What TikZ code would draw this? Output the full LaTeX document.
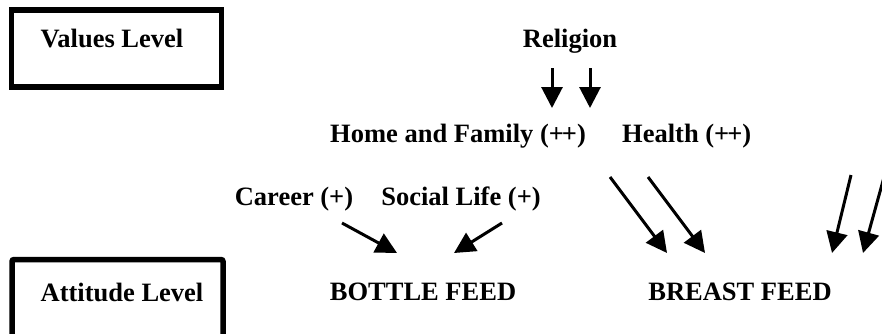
\documentclass[tikz,border=0pt]{standalone}
\usepackage{fontspec}
\setmainfont{Liberation Serif}
\usetikzlibrary{arrows.meta}
\begin{document}
\begin{tikzpicture}[x=1pt,y=-1pt,
  lbl/.style={font=\fontsize{26.5}{30}\selectfont\bfseries, anchor=base, inner sep=0pt},
  arr/.style={line width=3pt, -{Triangle[length=21pt,width=21pt]}},
  levelbox/.style={line width=5.5pt}]
\useasboundingbox (0,0) rectangle (882,333);
% level boxes
\draw[levelbox] (11.5,10) rectangle (221.5,87);
\draw[levelbox, rounded corners=2pt] (12,259.5) rectangle (223,360);
\node[lbl] (values) at (112,47) {Values Level};
\node[lbl] (attitude) at (122,301) {Attitude Level};
% labels
\node[lbl] (religion) at (570,47) {Religion};
\node[lbl, anchor=base west] (home) at (330,142) {Home and Family (+\kern-2pt+)};
\node[lbl, anchor=base west] (health) at (622,142) {Health (+\kern-2pt+)};
\node[lbl] (career) at (294,205) {Career (+)};
\node[lbl] (social) at (461,205) {Social Life (+)};
\node[lbl] (bottle) at (423,300) {BOTTLE FEED};
\node[lbl] (breast) at (740,300) {BREAST FEED};
% arrow end points
\coordinate (r1s) at (552,68); \coordinate (r1e) at (552,108);
\coordinate (r2s) at (590,68); \coordinate (r2e) at (590,108);
\coordinate (cs) at (342,223); \coordinate (ce) at (397,253);
\coordinate (ss) at (502,223); \coordinate (se) at (454,253);
\coordinate (h1s) at (610,177); \coordinate (h1e) at (667,253);
\coordinate (h2s) at (648,177); \coordinate (h2e) at (705,253);
\coordinate (x1s) at (851,175); \coordinate (x1e) at (832,253);
\coordinate (x2s) at (886,170); \coordinate (x2e) at (863,253);
\draw[arr] (r1s) -- (r1e);
\draw[arr] (r2s) -- (r2e);
\draw[arr] (cs) -- (ce);
\draw[arr] (ss) -- (se);
\draw[arr] (h1s) -- (h1e);
\draw[arr] (h2s) -- (h2e);
\draw[arr] (x1s) -- (x1e);
\draw[arr] (x2s) -- (x2e);
\end{tikzpicture}
\end{document}
